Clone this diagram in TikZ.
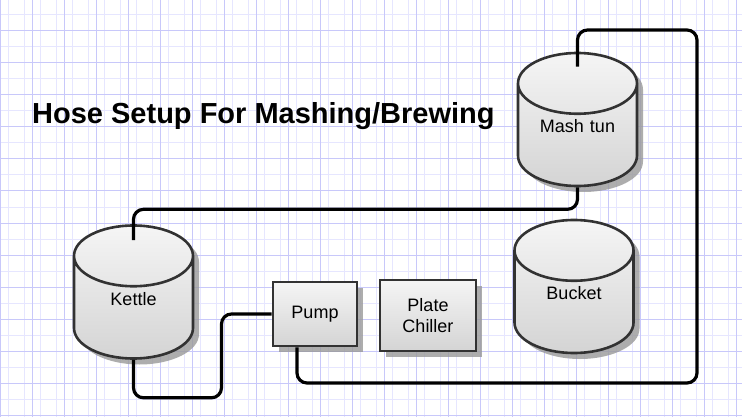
\documentclass[tikz,border=0pt]{standalone}
\usepackage{fontspec}
\setsansfont{Liberation Sans}
\usepackage{tikz}
\usetikzlibrary{shapes.geometric,shadows}

\definecolor{gridminor}{RGB}{230,230,255}
\definecolor{gridmajor}{RGB}{200,200,250}
\definecolor{boxtop}{RGB}{245,245,245}
\definecolor{boxbottom}{RGB}{212,212,212}
\definecolor{boxline}{RGB}{50,50,50}

\tikzset{
  part/.style={draw=boxline,line width=2.6pt,top color=boxtop,bottom color=boxbottom,
    drop shadow={shadow xshift=6pt,shadow yshift=-6pt,fill=black!40,opacity=0.8},
    font=\sffamily\fontsize{18}{21}\selectfont,align=center,inner sep=2pt},
  tank/.style={part,cylinder,shape border rotate=90,aspect=0.75,anchor=shape center,
    minimum width=119pt,minimum height=133pt,text width=77pt,text height=0pt,text depth=12.6pt},
  unit/.style={part,rectangle},
  hose/.style={line width=3.2pt,rounded corners=10pt}
}

\begin{document}
\begin{tikzpicture}[x=1pt,y=-1pt]
      \useasboundingbox (0,0) rectangle (742,417);
      \fill[white] (0,0) rectangle (742,417);

      % Grid paper
      \foreach \x in {8.7,24.7,...,742} {
        \draw[gridminor,line width=1pt] (\x,0) -- (\x,417);
      }
      \foreach \y in {15,47,...,417} {
        \draw[gridminor,line width=1pt] (0,\y) -- (742,\y);
      }
      \foreach \x in {0.7,32.7,...,742} {
        \draw[gridmajor,line width=1pt] (\x,0) -- (\x,417);
      }
      \foreach \y in {31,63,...,417} {
        \draw[gridmajor,line width=1pt] (0,\y) -- (742,\y);
      }

      % Title
      \node[anchor=base west,inner sep=0pt,font=\sffamily\bfseries\fontsize{29}{34}\selectfont] (title) at (32,124) {Hose Setup For Mashing/Brewing};

      % Vessels
      \node[tank] (mash) at (577.5,119.5) {Mash tun};
      \node[tank] (kettle) at (133.5,292) {Kettle};
      \node[tank] (bucket) at (574,286.5) {Bucket};

      % Pump and chiller
      \node[unit,minimum width=84pt,minimum height=64pt] (pump) at (315,314) {Pump};
      \node[unit,minimum width=96pt,minimum height=71pt] (chiller) at (428,315.3) {Plate\\Chiller};

      % Hoses
      \coordinate (topright) at (697,30);
      \coordinate (bottomright) at (697,383);
      \draw[hose] ([yshift=-15pt]mash.top) |- (topright) -- (bottomright) -| ([xshift=-18pt]pump.south);
      \draw[hose] (mash.bottom) -- ++(0,22) -| ([yshift=-16pt]kettle.top);
      \draw[hose] (kettle.bottom) -- ++(0,38) -- ++(88,0) |- (pump.west);
    \end{tikzpicture}
\end{document}
